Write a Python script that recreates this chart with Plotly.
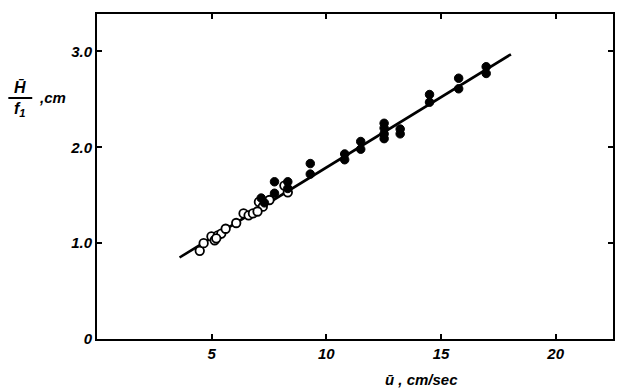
import plotly.graph_objects as go

# data
open_x = [4.48, 4.65, 4.99, 5.13, 5.27, 5.42, 5.61, 6.07, 6.39, 6.61, 6.80, 7.06, 7.23, 7.52, 8.17, 8.32, 7.0, 5.2]
open_y = [0.92, 1.00, 1.07, 1.03, 1.08, 1.10, 1.15, 1.21, 1.31, 1.29, 1.31, 1.43, 1.38, 1.45, 1.60, 1.53, 1.33, 1.05]
filled_x = [7.16, 7.74, 7.74, 8.32, 8.32, 9.3, 9.3, 10.8, 10.8, 11.5, 11.5, 12.52, 12.52, 12.52, 12.52,
            13.22, 13.22, 14.5, 14.5, 15.77, 15.77, 16.97, 16.97, 7.3]
filled_y = [1.47, 1.64, 1.52, 1.64, 1.57, 1.83, 1.72, 1.93, 1.87, 2.06, 1.98, 2.25, 2.20, 2.14, 2.09,
            2.19, 2.14, 2.55, 2.47, 2.72, 2.61, 2.84, 2.77, 1.42]
fit_x = [3.6, 18.05]
fit_y = [0.85, 2.97]

x_ticks = [5, 10, 15, 20]
y_ticks = [0, 1, 2, 3]
y_tick_text = ["0", "1.0", "2.0", "3.0"]

W, H = 617, 388
L, R, T, B = 97, 2, 14, 49
pw, ph = W - L - R, H - T - B


def px2paper(px, py):
    return (px - L) / pw, (H - B - py) / ph


font = dict(family="Liberation Sans, Arial, sans-serif", size=15, color="black",
            style="italic", weight="bold")

fig = go.Figure()
fig.add_trace(go.Scatter(x=fit_x, y=fit_y, mode="lines",
                         line=dict(color="black", width=2.6), showlegend=False))
fig.add_trace(go.Scatter(x=open_x, y=open_y, mode="markers",
                         marker=dict(size=8.5, color="white", line=dict(color="black", width=1.8)),
                         showlegend=False))
fig.add_trace(go.Scatter(x=filled_x, y=filled_y, mode="markers",
                         marker=dict(size=8.5, color="black", line=dict(color="black", width=1)),
                         showlegend=False))

axis_common = dict(showgrid=False, zeroline=False, showline=True, linecolor="black", linewidth=2,
                   ticks="inside", ticklen=5, tickwidth=2, tickcolor="black", mirror="ticks",
                   tickfont=font)

fig.update_xaxes(range=[0, 22.5], tickvals=x_ticks, ticktext=[str(v) for v in x_ticks], **axis_common)
fig.update_yaxes(range=[0, 3.39], tickvals=y_ticks, ticktext=y_tick_text, **axis_common)

annotations = []
hx, hy = px2paper(20, 87)
annotations.append(dict(x=hx, y=hy, xref="paper", yref="paper", text="H̄", showarrow=False,
                        font=dict(font, size=16), xanchor="center", yanchor="middle"))
fx, fy = px2paper(20, 110)
annotations.append(dict(x=fx, y=fy, xref="paper", yref="paper", text="f<sub>1</sub>", showarrow=False,
                        font=dict(font, size=16), xanchor="center", yanchor="middle"))
cx, cy = px2paper(37, 98)
annotations.append(dict(x=cx, y=cy, xref="paper", yref="paper", text=",cm", showarrow=False,
                        font=dict(font, size=15), xanchor="left", yanchor="middle"))
ux, uy = px2paper(384, 379)
annotations.append(dict(x=ux, y=uy, xref="paper", yref="paper", text="ū , cm/sec", showarrow=False,
                        font=dict(font, size=15), xanchor="left", yanchor="middle"))

bx0, by0 = px2paper(8, 98)
bx1, _ = px2paper(32, 98)
fig.add_shape(type="line", xref="paper", yref="paper", x0=bx0, x1=bx1, y0=by0, y1=by0,
              line=dict(color="black", width=2))

fig.update_layout(width=W, height=H, margin=dict(l=L, r=R, t=T, b=B, pad=0),
                  plot_bgcolor="white", paper_bgcolor="white", annotations=annotations)

fig.write_html("out.html")
